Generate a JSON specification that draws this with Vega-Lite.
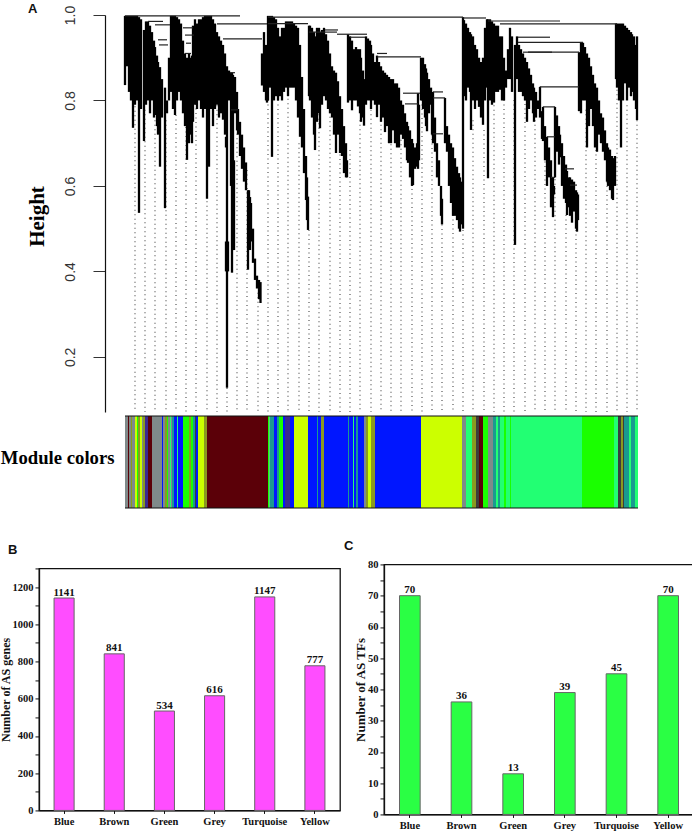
{
"$schema":"https://vega.github.io/schema/vega-lite/v6.json",
"padding":{"left":-2,"top":3,"right":0,"bottom":0},
"background":"#ffffff",
"spacing":30,
"config":{"view":{"stroke":null}},
"datasets":{
"guides":[{"x":10,"top":0.871},{"x":20,"top":0.778},{"x":30,"top":0.754},{"x":41,"top":0.754},{"x":51,"top":0.766},{"x":61,"top":0.801},{"x":71,"top":0.813},{"x":82,"top":0.754},{"x":92,"top":0.789},{"x":102,"top":0.801},{"x":112,"top":0.754},{"x":122,"top":0.637},{"x":133,"top":0.35},{"x":143,"top":0.801},{"x":153,"top":0.801},{"x":163,"top":0.825},{"x":174,"top":0.70},{"x":184,"top":0.497},{"x":194,"top":0.778},{"x":205,"top":0.825},{"x":215,"top":0.684},{"x":225,"top":0.684},{"x":235,"top":0.754},{"x":246,"top":0.778},{"x":256,"top":0.754},{"x":266,"top":0.708},{"x":276,"top":0.708},{"x":287,"top":0.614},{"x":297,"top":0.801},{"x":307,"top":0.731},{"x":317,"top":0.52},{"x":328,"top":0.532},{"x":338,"top":0.497},{"x":348,"top":0.754},{"x":359,"top":0.731},{"x":369,"top":0.789},{"x":379,"top":0.801},{"x":389,"top":0.801},{"x":400,"top":0.813},{"x":410,"top":0.754},{"x":420,"top":0.731},{"x":430,"top":0.626},{"x":441,"top":0.532},{"x":451,"top":0.497},{"x":461,"top":0.778},{"x":471,"top":0.684},{"x":482,"top":0.684},{"x":492,"top":0.825},{"x":502,"top":0.789},{"x":512,"top":0.754}],
"stems":[
{"x":0,"top":0.998,"bottom":0.836},{"x":2,"top":0.998,"bottom":0.88},{"x":4,"top":0.998,"bottom":0.82},{"x":6,"top":0.998,"bottom":0.80},{"x":8,"top":0.998,"bottom":0.736},{"x":10,"top":0.998,"bottom":0.79},{"x":12,"top":0.998,"bottom":0.80},{"x":14,"top":0.995,"bottom":0.537},{"x":16,"top":0.99,"bottom":0.78},{"x":19,"top":0.965,"bottom":0.705},{"x":21,"top":0.985,"bottom":0.79},{"x":23,"top":0.985,"bottom":0.80},{"x":25,"top":0.975,"bottom":0.77},{"x":27,"top":0.96,"bottom":0.80},{"x":29,"top":0.94,"bottom":0.76},{"x":30,"top":0.925,"bottom":0.766},{"x":32,"top":0.905,"bottom":0.74},{"x":33,"top":0.89,"bottom":0.72},{"x":35,"top":0.878,"bottom":0.645},{"x":37,"top":0.85,"bottom":0.76},{"x":40,"top":0.83,"bottom":0.548},{"x":42,"top":0.80,"bottom":0.77},{"x":44,"top":0.90,"bottom":0.80},{"x":46,"top":0.998,"bottom":0.82},{"x":48,"top":0.998,"bottom":0.78},{"x":50,"top":0.998,"bottom":0.766},{"x":52,"top":0.995,"bottom":0.80},{"x":54,"top":0.99,"bottom":0.82},{"x":56,"top":0.98,"bottom":0.80},{"x":58,"top":0.94,"bottom":0.77},{"x":60,"top":0.91,"bottom":0.74},{"x":62,"top":0.90,"bottom":0.661},{"x":64,"top":0.91,"bottom":0.70},{"x":66,"top":0.90,"bottom":0.72},{"x":67,"top":0.905,"bottom":0.70},{"x":68,"top":0.975,"bottom":0.75},{"x":70,"top":0.99,"bottom":0.79},{"x":72,"top":0.98,"bottom":0.78},{"x":74,"top":0.99,"bottom":0.80},{"x":76,"top":0.99,"bottom":0.78},{"x":78,"top":0.995,"bottom":0.76},{"x":80,"top":0.998,"bottom":0.78},{"x":82,"top":0.998,"bottom":0.57},{"x":84,"top":0.998,"bottom":0.645},{"x":86,"top":0.998,"bottom":0.78},{"x":88,"top":0.99,"bottom":0.74},{"x":90,"top":0.98,"bottom":0.78},{"x":92,"top":0.96,"bottom":0.79},{"x":94,"top":0.95,"bottom":0.76},{"x":96,"top":0.94,"bottom":0.77},{"x":98,"top":0.93,"bottom":0.755},
{"x":100,"top":0.91,"bottom":0.72},{"x":101,"top":0.715,"bottom":0.69},{"x":102,"top":0.88,"bottom":0.128},{"x":101,"top":0.47,"bottom":0.40},{"x":103,"top":0.47,"bottom":0.40},{"x":104,"top":0.87,"bottom":0.80},{"x":106,"top":0.865,"bottom":0.60},{"x":107,"top":0.865,"bottom":0.397},{"x":108,"top":0.86,"bottom":0.45},{"x":109,"top":0.66,"bottom":0.45},{"x":110,"top":0.855,"bottom":0.77},{"x":112,"top":0.82,"bottom":0.73},{"x":113,"top":0.78,"bottom":0.72},{"x":115,"top":0.75,"bottom":0.67},{"x":117,"top":0.72,"bottom":0.64},{"x":119,"top":0.69,"bottom":0.61},{"x":121,"top":0.655,"bottom":0.59},{"x":123,"top":0.59,"bottom":0.404},{"x":124,"top":0.59,"bottom":0.50},{"x":125,"top":0.574,"bottom":0.45},{"x":126,"top":0.56,"bottom":0.47},{"x":128,"top":0.50,"bottom":0.42},{"x":130,"top":0.43,"bottom":0.38},{"x":132,"top":0.39,"bottom":0.36},{"x":134,"top":0.38,"bottom":0.335},{"x":135.5,"top":0.375,"bottom":0.326},
{"x":137,"top":0.91,"bottom":0.835},{"x":139,"top":0.96,"bottom":0.82},{"x":141,"top":0.93,"bottom":0.80},{"x":142,"top":0.90,"bottom":0.795},{"x":143,"top":0.998,"bottom":0.80},{"x":145,"top":0.998,"bottom":0.83},{"x":147,"top":0.998,"bottom":0.668},{"x":149,"top":0.995,"bottom":0.80},{"x":151,"top":0.99,"bottom":0.81},{"x":153,"top":0.97,"bottom":0.80},{"x":155,"top":0.95,"bottom":0.81},{"x":157,"top":0.97,"bottom":0.80},{"x":159,"top":0.97,"bottom":0.82},{"x":161,"top":0.985,"bottom":0.83},{"x":163,"top":0.985,"bottom":0.81},{"x":165,"top":0.985,"bottom":0.83},{"x":167,"top":0.985,"bottom":0.83},{"x":169,"top":0.98,"bottom":0.83},{"x":171,"top":0.975,"bottom":0.80},{"x":173,"top":0.97,"bottom":0.76},{"x":175,"top":0.93,"bottom":0.715},{"x":177,"top":0.855,"bottom":0.69},{"x":179,"top":0.78,"bottom":0.63},{"x":181,"top":0.67,"bottom":0.567},{"x":182,"top":0.62,"bottom":0.52},{"x":183,"top":0.575,"bottom":0.497},
{"x":184,"top":0.975,"bottom":0.81},{"x":185,"top":0.975,"bottom":0.80},{"x":187,"top":0.97,"bottom":0.76},{"x":189,"top":0.96,"bottom":0.72},{"x":190,"top":0.95,"bottom":0.684},{"x":192,"top":0.97,"bottom":0.75},{"x":194,"top":0.97,"bottom":0.77},{"x":195,"top":0.96,"bottom":0.735},{"x":197,"top":0.965,"bottom":0.79},{"x":199,"top":0.97,"bottom":0.81},{"x":201,"top":0.955,"bottom":0.80},{"x":203,"top":0.94,"bottom":0.78},{"x":205,"top":0.91,"bottom":0.77},{"x":207,"top":0.88,"bottom":0.76},{"x":209,"top":0.87,"bottom":0.72},{"x":211,"top":0.865,"bottom":0.677},{"x":213,"top":0.845,"bottom":0.72},{"x":215,"top":0.81,"bottom":0.677},{"x":217,"top":0.78,"bottom":0.67},{"x":219,"top":0.74,"bottom":0.63},{"x":221,"top":0.70,"bottom":0.62},{"x":222,"top":0.66,"bottom":0.62},
{"x":223,"top":0.955,"bottom":0.795},{"x":225,"top":0.95,"bottom":0.80},{"x":227,"top":0.94,"bottom":0.777},{"x":229,"top":0.92,"bottom":0.80},{"x":231,"top":0.925,"bottom":0.80},{"x":233,"top":0.92,"bottom":0.786},{"x":235,"top":0.92,"bottom":0.77},{"x":236,"top":0.90,"bottom":0.75},{"x":238,"top":0.87,"bottom":0.76},{"x":239,"top":0.85,"bottom":0.741},{"x":241,"top":0.95,"bottom":0.79},{"x":243,"top":0.945,"bottom":0.80},{"x":245,"top":0.94,"bottom":0.80},{"x":246,"top":0.93,"bottom":0.78},{"x":248,"top":0.91,"bottom":0.80},{"x":250,"top":0.89,"bottom":0.79},{"x":252,"top":0.905,"bottom":0.761},{"x":254,"top":0.89,"bottom":0.79},{"x":256,"top":0.88,"bottom":0.75},{"x":258,"top":0.87,"bottom":0.76},{"x":260,"top":0.865,"bottom":0.726},{"x":262,"top":0.86,"bottom":0.74},{"x":264,"top":0.855,"bottom":0.70},{"x":266,"top":0.85,"bottom":0.70},{"x":268,"top":0.85,"bottom":0.73},{"x":270,"top":0.84,"bottom":0.70},{"x":272,"top":0.84,"bottom":0.69},{"x":274,"top":0.83,"bottom":0.69},{"x":276,"top":0.80,"bottom":0.72},{"x":278,"top":0.79,"bottom":0.71},{"x":280,"top":0.77,"bottom":0.69},{"x":282,"top":0.75,"bottom":0.66},{"x":283,"top":0.74,"bottom":0.654},{"x":285,"top":0.73,"bottom":0.62},{"x":287,"top":0.71,"bottom":0.60},{"x":288,"top":0.70,"bottom":0.602},{"x":290,"top":0.69,"bottom":0.64},{"x":292,"top":0.70,"bottom":0.645},{"x":293,"top":0.817,"bottom":0.64},{"x":294,"top":0.79,"bottom":0.66},
{"x":296,"top":0.90,"bottom":0.80},{"x":298,"top":0.90,"bottom":0.78},{"x":300,"top":0.885,"bottom":0.76},{"x":301,"top":0.875,"bottom":0.74},{"x":302,"top":0.865,"bottom":0.728},{"x":304,"top":0.85,"bottom":0.77},{"x":306,"top":0.83,"bottom":0.79},{"x":307,"top":0.815,"bottom":0.72},{"x":308,"top":0.82,"bottom":0.70},{"x":310,"top":0.76,"bottom":0.68},{"x":312,"top":0.70,"bottom":0.62},{"x":314,"top":0.66,"bottom":0.60},{"x":316,"top":0.60,"bottom":0.53},{"x":317,"top":0.57,"bottom":0.51},
{"x":320,"top":0.806,"bottom":0.70},{"x":322,"top":0.74,"bottom":0.68},{"x":324,"top":0.72,"bottom":0.60},{"x":326,"top":0.70,"bottom":0.56},{"x":328,"top":0.69,"bottom":0.53},{"x":330,"top":0.665,"bottom":0.53},{"x":332,"top":0.645,"bottom":0.52},{"x":334,"top":0.63,"bottom":0.50},{"x":335,"top":0.62,"bottom":0.493},{"x":337,"top":0.61,"bottom":0.51},{"x":338,"top":0.995,"bottom":0.50},
{"x":339,"top":0.988,"bottom":0.81},{"x":341,"top":0.98,"bottom":0.80},{"x":343,"top":0.97,"bottom":0.83},{"x":345,"top":0.96,"bottom":0.82},{"x":346,"top":0.955,"bottom":0.731},{"x":348,"top":0.95,"bottom":0.80},{"x":350,"top":0.93,"bottom":0.78},{"x":352,"top":0.92,"bottom":0.80},{"x":354,"top":0.90,"bottom":0.785},{"x":356,"top":0.89,"bottom":0.76},{"x":358,"top":0.90,"bottom":0.743},{"x":360,"top":0.97,"bottom":0.80},{"x":362,"top":0.99,"bottom":0.83},{"x":363,"top":0.99,"bottom":0.618},{"x":365,"top":0.99,"bottom":0.80},{"x":367,"top":0.985,"bottom":0.79},{"x":369,"top":0.98,"bottom":0.795},{"x":371,"top":0.975,"bottom":0.82},{"x":373,"top":0.975,"bottom":0.82},{"x":375,"top":0.95,"bottom":0.825},{"x":377,"top":0.95,"bottom":0.80},{"x":379,"top":0.90,"bottom":0.80},{"x":381,"top":0.87,"bottom":0.83},{"x":383,"top":0.92,"bottom":0.85},{"x":385,"top":0.97,"bottom":0.85},{"x":387,"top":0.95,"bottom":0.82},{"x":390,"top":0.93,"bottom":0.462},{"x":392,"top":0.95,"bottom":0.85},{"x":394,"top":0.93,"bottom":0.82},{"x":396,"top":0.92,"bottom":0.82},{"x":398,"top":0.91,"bottom":0.81},{"x":400,"top":0.90,"bottom":0.80},{"x":402,"top":0.89,"bottom":0.75},{"x":404,"top":0.875,"bottom":0.78},{"x":406,"top":0.86,"bottom":0.80},{"x":408,"top":0.84,"bottom":0.77},{"x":409,"top":0.83,"bottom":0.75},{"x":411,"top":0.82,"bottom":0.76},{"x":413,"top":0.80,"bottom":0.78},{"x":415,"top":0.832,"bottom":0.76},{"x":417,"top":0.775,"bottom":0.71},
{"x":418,"top":0.785,"bottom":0.705},{"x":420,"top":0.74,"bottom":0.66},{"x":422,"top":0.715,"bottom":0.60},{"x":424,"top":0.69,"bottom":0.62},{"x":426,"top":0.66,"bottom":0.55},{"x":428,"top":0.62,"bottom":0.527},{"x":429,"top":0.60,"bottom":0.58},{"x":430,"top":0.785,"bottom":0.62},{"x":432,"top":0.765,"bottom":0.68},{"x":434,"top":0.74,"bottom":0.65},{"x":435,"top":0.72,"bottom":0.667},{"x":437,"top":0.70,"bottom":0.60},{"x":439,"top":0.67,"bottom":0.57},{"x":441,"top":0.65,"bottom":0.56},{"x":442,"top":0.635,"bottom":0.532},{"x":444,"top":0.62,"bottom":0.55},{"x":445,"top":0.62,"bottom":0.53},{"x":447,"top":0.615,"bottom":0.514},{"x":449,"top":0.61,"bottom":0.54},{"x":451,"top":0.59,"bottom":0.50},{"x":452,"top":0.585,"bottom":0.493},{"x":453,"top":0.58,"bottom":0.52},
{"x":454,"top":0.913,"bottom":0.775},{"x":456,"top":0.935,"bottom":0.77},{"x":458,"top":0.935,"bottom":0.80},{"x":460,"top":0.925,"bottom":0.80},{"x":462,"top":0.91,"bottom":0.69},{"x":464,"top":0.90,"bottom":0.74},{"x":466,"top":0.88,"bottom":0.78},{"x":468,"top":0.86,"bottom":0.74},{"x":470,"top":0.84,"bottom":0.69},{"x":472,"top":0.83,"bottom":0.68},{"x":474,"top":0.80,"bottom":0.72},{"x":476,"top":0.77,"bottom":0.70},{"x":478,"top":0.76,"bottom":0.68},{"x":480,"top":0.73,"bottom":0.66},{"x":482,"top":0.70,"bottom":0.61},{"x":483,"top":0.69,"bottom":0.60},{"x":485,"top":0.685,"bottom":0.59},{"x":487,"top":0.67,"bottom":0.57},{"x":488,"top":0.665,"bottom":0.567},{"x":490,"top":0.67,"bottom":0.60},
{"x":491,"top":0.98,"bottom":0.85},{"x":492,"top":0.98,"bottom":0.83},{"x":494,"top":0.98,"bottom":0.80},{"x":496,"top":0.98,"bottom":0.69},{"x":498,"top":0.98,"bottom":0.80},{"x":500,"top":0.975,"bottom":0.84},{"x":502,"top":0.97,"bottom":0.80},{"x":504,"top":0.965,"bottom":0.83},{"x":506,"top":0.96,"bottom":0.81},{"x":507,"top":0.955,"bottom":0.82},{"x":509,"top":0.95,"bottom":0.80},{"x":511,"top":0.93,"bottom":0.78},{"x":512,"top":0.95,"bottom":0.754}
],
"links":[
{"x":0,"x2":115,"h":0.998},{"x":143,"x2":338,"h":0.995},{"x":92,"x2":142,"h":0.979},{"x":98,"x2":137,"h":0.944},{"x":143,"x2":183,"h":0.98},{"x":184,"x2":212,"h":0.96},{"x":200,"x2":213,"h":0.965},{"x":212,"x2":242,"h":0.955},{"x":225,"x2":240,"h":0.948},{"x":252,"x2":262,"h":0.91},{"x":252,"x2":296,"h":0.902},{"x":278,"x2":295,"h":0.817},{"x":280,"x2":293,"h":0.792},{"x":308,"x2":318,"h":0.82},{"x":308,"x2":320,"h":0.806},{"x":308,"x2":318,"h":0.722},{"x":338,"x2":361,"h":0.993},{"x":363,"x2":435,"h":0.986},{"x":375,"x2":492,"h":0.979},{"x":393,"x2":425,"h":0.948},{"x":393,"x2":458,"h":0.936},{"x":398,"x2":427,"h":0.913},{"x":403,"x2":454,"h":0.913},{"x":415,"x2":454,"h":0.832},{"x":418,"x2":430,"h":0.785},{"x":422,"x2":430,"h":0.715},{"x":426,"x2":430,"h":0.62},{"x":440,"x2":449,"h":0.64},{"x":445,"x2":452,"h":0.602},{"x":23,"x2":38,"h":0.985},{"x":30,"x2":45,"h":0.977},{"x":33,"x2":42,"h":0.942},{"x":34,"x2":43,"h":0.93},{"x":58,"x2":68,"h":0.97},{"x":60,"x2":69,"h":0.953},{"x":61,"x2":66,"h":0.934},{"x":60,"x2":66,"h":0.91},{"x":105,"x2":110,"h":0.865},{"x":106,"x2":113,"h":0.778}
],
"strip":[
{"start":0,"end":3,"module":"grey"},{"start":3,"end":4,"module":"brown"},{"start":4,"end":6,"module":"grey"},{"start":6,"end":7,"module":"olive"},{"start":7,"end":10,"module":"grey"},{"start":10,"end":12,"module":"yellow"},{"start":12,"end":13,"module":"green"},{"start":13,"end":15,"module":"olive"},{"start":15,"end":17,"module":"yellow"},{"start":17,"end":18,"module":"grey"},{"start":18,"end":20,"module":"olive"},{"start":20,"end":23,"module":"navy"},{"start":23,"end":27,"module":"brown"},{"start":27,"end":37,"module":"grey"},{"start":37,"end":38,"module":"blue"},{"start":38,"end":40,"module":"grey"},{"start":40,"end":42,"module":"olive"},{"start":42,"end":43,"module":"green"},{"start":43,"end":45,"module":"grey"},{"start":45,"end":46,"module":"turquoise"},{"start":46,"end":47,"module":"grey"},{"start":47,"end":49,"module":"teal"},{"start":49,"end":52,"module":"blue"},{"start":52,"end":53,"module":"turquoise"},{"start":53,"end":58,"module":"blue"},{"start":58,"end":64,"module":"green"},{"start":64,"end":66,"module":"olive"},{"start":66,"end":68,"module":"green"},{"start":68,"end":70,"module":"teal"},{"start":70,"end":71,"module":"dark"},{"start":71,"end":73,"module":"blue"},{"start":73,"end":79,"module":"yellow"},{"start":79,"end":82,"module":"olive"},{"start":82,"end":143,"module":"brown"},{"start":143,"end":144.5,"module":"green"},{"start":144.5,"end":149,"module":"teal"},{"start":149,"end":152,"module":"blue"},{"start":152,"end":154,"module":"teal"},{"start":154,"end":158,"module":"green"},{"start":158,"end":160,"module":"blue"},{"start":160,"end":165,"module":"navy"},{"start":165,"end":169,"module":"blue"},{"start":169,"end":183,"module":"yellow"},{"start":183,"end":192,"module":"blue"},{"start":192,"end":193,"module":"teal"},{"start":193,"end":196,"module":"blue"},{"start":196,"end":199,"module":"olive"},{"start":199,"end":223,"module":"blue"},{"start":223,"end":224,"module":"teal"},{"start":224,"end":228,"module":"blue"},{"start":228,"end":229,"module":"turquoise"},{"start":229,"end":231,"module":"blue"},{"start":231,"end":233,"module":"teal"},{"start":233,"end":239,"module":"blue"},{"start":239,"end":241,"module":"grey"},{"start":241,"end":243,"module":"olive"},{"start":243,"end":246,"module":"yellow"},{"start":246,"end":250,"module":"olive"},{"start":250,"end":296,"module":"blue"},{"start":296,"end":337,"module":"yellow"},{"start":337,"end":341,"module":"grey"},{"start":341,"end":347,"module":"turquoise"},{"start":347,"end":351,"module":"olive"},{"start":351,"end":354,"module":"dark"},{"start":354,"end":358,"module":"brown"},{"start":358,"end":363,"module":"green"},{"start":363,"end":368,"module":"grey"},{"start":368,"end":371,"module":"teal"},{"start":371,"end":373,"module":"turquoise"},{"start":373,"end":375,"module":"teal"},{"start":375,"end":379,"module":"turquoise"},{"start":379,"end":381,"module":"green"},{"start":381,"end":385,"module":"turquoise"},{"start":385,"end":386,"module":"green"},{"start":386,"end":457,"module":"turquoise"},{"start":457,"end":489,"module":"green"},{"start":489,"end":493,"module":"turquoise"},{"start":493,"end":496,"module":"dark"},{"start":496,"end":498,"module":"olive"},{"start":498,"end":499,"module":"dark"},{"start":499,"end":504,"module":"teal"},{"start":504,"end":506,"module":"turquoise"},{"start":506,"end":510,"module":"teal"},{"start":510,"end":513,"module":"turquoise"}
],
"edges":[{"from":0,"to":513,"level":0},{"from":0,"to":513,"level":1}],
"genes":[{"module":"Blue","count":1141},{"module":"Brown","count":841},{"module":"Green","count":534},{"module":"Grey","count":616},{"module":"Turquoise","count":1147},{"module":"Yellow","count":777}],
"tfs":[{"module":"Blue","count":70},{"module":"Brown","count":36},{"module":"Green","count":13},{"module":"Grey","count":39},{"module":"Turquoise","count":45},{"module":"Yellow","count":70}]
},
"vconcat":[
{"spacing":2,"vconcat":[
{"width":599,"height":397,
"title":{"text":"A","anchor":"start","frame":"group","font":"Liberation Sans","fontWeight":"bold","fontSize":13,"color":"#111","dx":-11,"offset":-11},
"layer":[
{"data":{"name":"guides"},"mark":{"type":"rule","color":"#555","strokeWidth":1.2,"strokeDash":[1,3.5]},
"encoding":{"x":{"field":"x","type":"quantitative","scale":{"domain":[-86,513],"nice":false,"zero":false},"axis":null},
"y":{"field":"top","type":"quantitative","scale":{"domain":[0.071,1],"nice":false,"zero":false},
"axis":{"values":[0.2,0.4,0.6,0.8,1.0],"format":".1f","labelAngle":-90,"labelAlign":"center","labelBaseline":"middle","labelFont":"Liberation Sans","labelFontSize":14,"labelColor":"#333","labelPadding":23,"tickSize":12,"tickColor":"#333","tickWidth":1,"domainColor":"#111","domainWidth":1.2,"offset":-66,"grid":false,"title":"Height","titleFont":"Liberation Serif","titleFontWeight":"bold","titleFontSize":21,"titleColor":"#000","titlePadding":16,"titleY":201}},
"y2":{"datum":0.071}}},
{"data":{"name":"stems"},"mark":{"type":"rule","color":"#000000","strokeWidth":2.3},
"encoding":{"x":{"field":"x","type":"quantitative"},"y":{"field":"top","type":"quantitative"},"y2":{"field":"bottom"}}},
{"data":{"name":"links"},"mark":{"type":"rule","color":"#222","strokeWidth":1.2},
"encoding":{"x":{"field":"x","type":"quantitative"},"x2":{"field":"x2"},"y":{"field":"h","type":"quantitative"}}}
]},
{"width":599,"height":92,
"layer":[
{"data":{"name":"strip"},"mark":{"type":"rect"},
"encoding":{"x":{"field":"start","type":"quantitative","scale":{"domain":[-86,513],"nice":false,"zero":false},"axis":null},"x2":{"field":"end"},
"y":{"datum":0,"type":"quantitative","scale":{"domain":[0,1]},"axis":{"title":"Module colors","titleAngle":0,"titleFont":"Liberation Serif","titleFontWeight":"bold","titleFontSize":18.7,"titleColor":"#000","titleAlign":"right","titleBaseline":"middle","titlePadding":11,"titleY":41,"offset":-86,"labels":false,"ticks":false,"domain":false,"grid":false}},
"y2":{"datum":1},
"color":{"field":"module","type":"nominal","legend":null,"scale":{"domain":["grey","brown","blue","yellow","green","turquoise","olive","navy","teal","dark"],"range":["#7f8a8a","#5b0008","#0016ff","#ccff00","#1aff00","#22ff73","#8a9a20","#3a2a90","#1a9a90","#3c3c3c"]}}}},
{"data":{"name":"edges"},"mark":{"type":"rule","color":"#111","strokeWidth":1.2},
"encoding":{"x":{"field":"from","type":"quantitative"},"x2":{"field":"to"},"y":{"field":"level","type":"quantitative"}}}
]}
]},
{"spacing":2,"center":true,"hconcat":[
{"width":301,"height":242,"view":{"stroke":"#111","strokeWidth":1.3},
"title":{"text":"B","anchor":"start","frame":"group","font":"Liberation Sans","fontWeight":"bold","fontSize":13,"color":"#111","dx":-31,"offset":6.5},
"data":{"name":"genes"},
"encoding":{"x":{"field":"module","type":"nominal","sort":null,"scale":{"paddingInner":0.6,"paddingOuter":0.3},"axis":{"title":null,"labelAngle":0,"labelFont":"Liberation Serif","labelFontWeight":"bold","labelFontSize":10.5,"labelColor":"#111","tickSize":3,"tickColor":"#111","domainColor":"#111","domainWidth":1.3,"labelPadding":3}},
"y":{"field":"count","type":"quantitative","scale":{"domain":[0,1300],"nice":false},"axis":{"values":[0,100,200,300,400,500,600,700,800,900,1000,1100,1200,1300],"labelExpr":"datum.value%200==0?datum.value:''","encoding":{"ticks":{"update":{"x2":{"signal":"datum.value%200==0?-4:-2"}}}},"grid":false,"title":"Number of AS genes","titleFont":"Liberation Serif","titleFontWeight":"bold","titleFontSize":12,"titleColor":"#111","titlePadding":0,"labelFont":"Liberation Serif","labelFontWeight":"bold","labelFontSize":10.5,"labelColor":"#111","labelOverlap":false,"tickSize":4,"tickColor":"#111","domainColor":"#111","domainWidth":1.3,"labelPadding":2}}},
"layer":[
{"mark":{"type":"bar","color":"#ff4dff","stroke":"#666","strokeWidth":1}},
{"mark":{"type":"text","font":"Liberation Serif","fontWeight":"bold","fontSize":11,"color":"#111","baseline":"bottom","dy":-0.5},
"encoding":{"text":{"field":"count","type":"quantitative"}}}
]},
{"width":310,"height":250,"view":{"stroke":"#111","strokeWidth":1.3},
"title":{"text":"C","anchor":"start","frame":"group","font":"Liberation Sans","fontWeight":"bold","fontSize":13,"color":"#111","dx":-40,"offset":6},
"data":{"name":"tfs"},
"encoding":{"x":{"field":"module","type":"nominal","sort":null,"scale":{"paddingInner":0.6,"paddingOuter":0.3},"axis":{"title":null,"labelAngle":0,"labelFont":"Liberation Serif","labelFontWeight":"bold","labelFontSize":10.5,"labelColor":"#111","tickSize":3,"tickColor":"#111","domainColor":"#111","domainWidth":1.3,"labelPadding":3}},
"y":{"field":"count","type":"quantitative","scale":{"domain":[0,80],"nice":false},"axis":{"values":[0,5,10,15,20,25,30,35,40,45,50,55,60,65,70,75,80],"labelExpr":"datum.value%10==0?datum.value:''","encoding":{"ticks":{"update":{"x2":{"signal":"datum.value%10==0?-4:-2"}}}},"grid":false,"title":"Number of AS TFs","titleFont":"Liberation Serif","titleFontWeight":"bold","titleFontSize":13,"titleColor":"#111","titlePadding":0,"labelFont":"Liberation Serif","labelFontWeight":"bold","labelFontSize":10.5,"labelColor":"#111","labelOverlap":false,"tickSize":4,"tickColor":"#111","domainColor":"#111","domainWidth":1.3,"labelPadding":2}}},
"layer":[
{"mark":{"type":"bar","color":"#2aff44","stroke":"#666","strokeWidth":1}},
{"mark":{"type":"text","font":"Liberation Serif","fontWeight":"bold","fontSize":11,"color":"#111","baseline":"bottom","dy":-0.5},
"encoding":{"text":{"field":"count","type":"quantitative"}}}
]}
]}
]
}
